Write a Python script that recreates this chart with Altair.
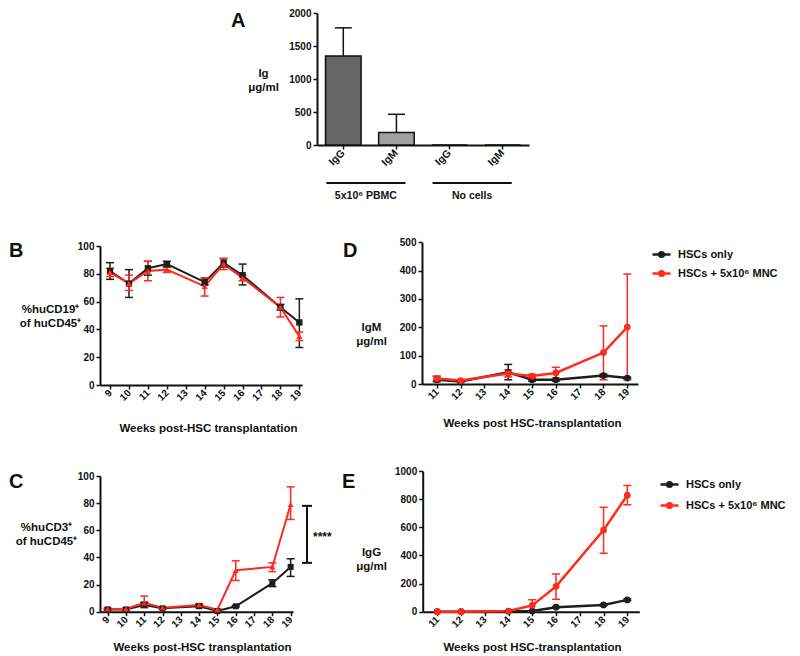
import altair as alt
import pandas as pd

# ---------------- data ----------------
SERIES = ["HSCs only", "HSCs + 5x10⁶ MNC"]

# Panel A: immunoglobulin (µg/ml)
a_group = ["5x10⁶ PBMC", "5x10⁶ PBMC", "No cells", "No cells"]
a_group_names = ["5x10⁶ PBMC", "No cells"]
a_ig = ["IgG", "IgM", "IgG", "IgM"]
a_mean = [1350, 190, 0, 0]
a_upper = [1775, 465, 0, 0]
a_yticks = [0, 500, 1000, 1500, 2000]

# Panel B: %huCD19+ of huCD45+
b_weeks = [9, 10, 11, 12, 14, 15, 16, 18, 19]
b_hsc_mean = [82, 73, 84, 87, 74, 88, 79, 56, 45]
b_hsc_lo = [76, 63, 79, 85, 72, 85, 72, 54, 27]
b_hsc_hi = [88, 83, 89, 89, 77, 91, 87, 58, 62]
b_mnc_mean = [81, 73, 82, 83, 71, 87, 77, 56, 35]
b_mnc_lo = [78, 68, 75, 81, 64, 83, 75, 49, 32]
b_mnc_hi = [84, 79, 89, 85, 77, 91, 79, 63, 38]
bc_xticks = [9, 10, 11, 12, 13, 14, 15, 16, 17, 18, 19]
bc_yticks = [0, 20, 40, 60, 80, 100]

# Panel C: %huCD3+ of huCD45+
c_weeks = [9, 10, 11, 12, 14, 15, 16, 18, 19]
c_hsc_mean = [1.7, 1.7, 5, 2.5, 4, 0.5, 4, 21, 33]
c_hsc_lo = [1, 1, 3, 2, 3, 0, 3.5, 18.5, 26]
c_hsc_hi = [2.5, 2.5, 7, 3, 5, 1, 4.5, 23.5, 39]
c_mnc_mean = [2, 2, 6.5, 3, 5, 1.5, 30.5, 33, 79]
c_mnc_lo = [1.5, 1.5, 3.5, 2.5, 4, 1, 23, 29.5, 68]
c_mnc_hi = [2.5, 2.5, 11.5, 3.5, 6, 2, 37.5, 36, 92]
c_sig_lo, c_sig_hi, c_sig_label = 36, 78, "****"

# Panel D: IgM µg/ml
d_weeks = [11, 12, 14, 15, 16, 18, 19]
d_hsc_mean = [15, 9, 41, 15, 15, 30, 21]
d_hsc_lo = [8, 6, 15, 10, 10, 25, 18]
d_hsc_hi = [27, 12, 69, 20, 20, 35, 24]
d_mnc_mean = [19, 12, 37, 28, 39, 111, 201]
d_mnc_lo = [12, 9, 25, 22, 20, 15, 15]
d_mnc_hi = [27, 15, 50, 34, 59, 205, 388]
d_yticks = [0, 100, 200, 300, 400, 500]

# Panel E: IgG µg/ml
e_weeks = [11, 12, 14, 15, 16, 18, 19]
e_hsc_mean = [0, 0, 3, 5, 32, 48, 84]
e_hsc_lo = [0, 0, 1, 2, 28, 43, 78]
e_hsc_hi = [0, 0, 5, 8, 36, 53, 90]
e_mnc_mean = [0, 0, 5, 45, 180, 580, 828]
e_mnc_lo = [0, 0, 2, 2, 88, 415, 760]
e_mnc_hi = [0, 0, 8, 85, 268, 742, 897]
e_yticks = [0, 200, 400, 600, 800, 1000]
de_xticks = [11, 12, 13, 14, 15, 16, 17, 18, 19]

letters = ["A", "B", "C", "D", "E"]

# ---------------- style / layout ----------------
RED = "#ff2b1c"
BLACK = "#1e1e1e"
FONT = "Liberation Sans"
OFF = 8            # page margin
W, H = 784, 648    # whole drawing area (page 8..792, 8..656)
TLH = 14           # title line height


def px(v):
    """page pixel -> chart pixel"""
    return v - OFF


LEG_SYMBOL = "M-1,0L1,0M0.26,0A0.26,0.26,0,1,1,-0.26,0A0.26,0.26,0,1,1,0.26,0Z"


def make_df(weeks, hsc, mnc):
    rows = []
    for name, (m, lo, hi) in zip(SERIES, (hsc, mnc)):
        for w, mm, l, h in zip(weeks, m, lo, hi):
            rows.append({"week": w, "series": name, "mean": mm, "lo": l, "hi": h})
    return pd.DataFrame(rows)


def line_panel(df, g, xticks, yticks, xtitle, ytitle, shapes, pt_size, line_w, legend=None):
    xs = alt.Scale(domain=list(g["xd"]), range=[px(g["x0"]), px(g["x1"])], nice=False, zero=False)
    ys = alt.Scale(domain=list(g["yd"]), range=[px(g["y0"]), px(g["y1"])], nice=False, zero=False)
    cs = alt.Scale(domain=SERIES, range=[BLACK, RED])
    shp = alt.Scale(domain=SERIES, range=shapes)
    xaxis = alt.Axis(orient="bottom", offset=px(g["y0"]) - H, values=xticks, format="d",
                     labelAngle=-45, labelAlign="right", labelBaseline="middle",
                     title=xtitle, titleX=px(g["xt"][0]), titleY=g["xt"][1] - g["y0"],
                     titleAlign="center", titleBaseline="middle")
    # first line of the two-line title is placed at titleY
    yaxis = alt.Axis(orient="left", offset=-px(g["x0"]), values=yticks, format="d",
                     title=ytitle, titleAngle=0, titleX=g["yt"][0] - g["x0"],
                     titleY=px(g["yt"][1]) - TLH / 2,
                     titleAlign="center", titleBaseline="middle")
    base = alt.Chart(df)
    col = alt.Color("series:N", scale=cs, legend=None)

    def xq(axis=None):
        return alt.X("week:Q", scale=xs, axis=axis)

    line = base.mark_line(strokeWidth=line_w).encode(
        x=xq(xaxis), y=alt.Y("mean:Q", scale=ys, axis=yaxis),
        color=alt.Color("series:N", scale=cs, legend=legend) if legend is not None else col)
    errb = base.transform_filter("datum.hi > datum.lo")
    rule = errb.mark_rule(strokeWidth=1.5).encode(
        x=xq(), y=alt.Y("lo:Q", scale=ys, axis=None), y2="hi:Q", color=col)
    cap_hi = errb.mark_tick(orient="horizontal", size=8, thickness=1.5, opacity=1).encode(
        x=xq(), y=alt.Y("hi:Q", scale=ys, axis=None), color=col)
    cap_lo = errb.mark_tick(orient="horizontal", size=8, thickness=1.5, opacity=1).encode(
        x=xq(), y=alt.Y("lo:Q", scale=ys, axis=None), color=col)
    pts = base.mark_point(filled=True, opacity=1, size=pt_size).encode(
        x=xq(), y=alt.Y("mean:Q", scale=ys, axis=None), color=col,
        shape=alt.Shape("series:N", scale=shp, legend=None))
    return [line, rule, cap_hi, cap_lo, pts], xs, ys


def legend_at(x, y, rowpad):
    return alt.Legend(orient="none", legendX=px(x), legendY=px(y), title=None,
                      symbolType=LEG_SYMBOL, symbolSize=324, symbolStrokeWidth=2.5,
                      symbolOpacity=1, labelFont=FONT, labelFontSize=11,
                      labelFontWeight="bold", labelColor="#111", labelOffset=6,
                      rowPadding=rowpad, padding=0)


layers = []

# ---------------- Panel A ----------------
a_ids = [f"{g}|{i}" for g, i in zip(a_group, a_ig)]
dfA = pd.DataFrame({"id": a_ids, "group": a_group, "ig": a_ig, "mean": a_mean, "upper": a_upper})
A_X0, A_X1, A_PI, A_PO = 317, 529, 0.33, 0.16
A_Y0, A_Y1 = 145, 13
bandA = alt.Scale(domain=a_ids, range=[px(A_X0), px(A_X1)], paddingInner=A_PI, paddingOuter=A_PO)
ysA = alt.Scale(domain=[0, 2000], range=[px(A_Y0), px(A_Y1)], nice=False, zero=False)
xaxisA = alt.Axis(orient="bottom", offset=px(A_Y0) - H, labelExpr="split(datum.label, '|')[1]",
                  labelAngle=-45, labelAlign="right", labelBaseline="middle", labelFontSize=10.5,
                  title=None)
yaxisA = alt.Axis(orient="left", offset=-px(A_X0), values=a_yticks, format="d",
                  title=["Ig", "μg/ml"], titleAngle=0, titleX=263 - A_X0, titleY=px(80) - TLH / 2,
                  titleAlign="center", titleBaseline="middle")
barsA = alt.Chart(dfA).mark_bar(stroke="#111", strokeWidth=1.5).encode(
    x=alt.X("id:N", scale=bandA, axis=xaxisA),
    y=alt.Y("mean:Q", scale=ysA, axis=yaxisA),
    color=alt.Color("ig:N", scale=alt.Scale(domain=["IgG", "IgM"], range=["#666666", "#a0a0a0"]), legend=None))
errA = alt.Chart(dfA).transform_filter("datum.upper > datum.mean")
ruleA = errA.mark_rule(strokeWidth=1.5, color="#111").encode(
    x=alt.X("id:N", scale=bandA, axis=None), y=alt.Y("mean:Q", scale=ysA, axis=None), y2="upper:Q")
capA = errA.mark_tick(orient="horizontal", size=17, thickness=1.5, color="#111", opacity=1).encode(
    x=alt.X("id:N", scale=bandA, axis=None), y=alt.Y("upper:Q", scale=ysA, axis=None))

n = len(a_ids)
step = (A_X1 - A_X0) / (n - A_PI + 2 * A_PO)
centers = [A_X0 + A_PO * step + i * step + (1 - A_PI) * step / 2 for i in range(n)]
gscale = alt.Scale(domain=[0, n - 1], range=[px(centers[0]), px(centers[-1])], nice=False, zero=False)
grp_rows = []
for gname in a_group_names:
    idx = [i for i, g in enumerate(a_group) if g == gname]
    s, e = idx[0] - 0.32, idx[-1] + 0.17
    grp_rows.append({"label": gname, "start": s, "end": e, "mid": (s + e) / 2})
dfG = pd.DataFrame(grp_rows)
grpRule = alt.Chart(dfG).mark_rule(strokeWidth=2, color="#111").encode(
    x=alt.X("start:Q", scale=gscale, axis=None), x2="end:Q", y=alt.value(px(183)))
grpText = alt.Chart(dfG).mark_text(font=FONT, fontSize=10.5, fontWeight="bold", color="#111",
                                   align="center", baseline="middle").encode(
    x=alt.X("mid:Q", scale=gscale, axis=None), y=alt.value(px(196)), text="label:N")
layers += [barsA, ruleA, capA, grpRule, grpText]

# ---------------- Panels B-E ----------------
GEO = {
    "B": dict(x0=100, x1=302, xd=(8.47, 19.14), y0=385, y1=246, yd=(0, 100), xt=(208, 428), yt=(50, 316)),
    "C": dict(x0=100, x1=293, xd=(8.58, 19.13), y0=611.7, y1=476, yd=(0, 100), xt=(202, 647), yt=(46, 534)),
    "D": dict(x0=422, x1=638, xd=(10.38, 19.45), y0=384, y1=242.3, yd=(0, 500), xt=(532, 423), yt=(371, 334)),
    "E": dict(x0=422.7, x1=639.3, xd=(10.385, 19.505), y0=611.7, y1=471, yd=(0, 1000), xt=(532, 647), yt=(371, 559)),
}

lB, _, _ = line_panel(make_df(b_weeks, (b_hsc_mean, b_hsc_lo, b_hsc_hi), (b_mnc_mean, b_mnc_lo, b_mnc_hi)),
                      GEO["B"], bc_xticks, bc_yticks, "Weeks post-HSC transplantation",
                      ["%huCD19⁺", "of huCD45⁺"], ["square", "triangle-up"], 40, 2)
lC, xsC, ysC = line_panel(make_df(c_weeks, (c_hsc_mean, c_hsc_lo, c_hsc_hi), (c_mnc_mean, c_mnc_lo, c_mnc_hi)),
                          GEO["C"], bc_xticks, bc_yticks, "Weeks post-HSC transplantation",
                          ["%huCD3⁺", "of huCD45⁺"], ["square", "triangle-up"], 36, 2)
lD, _, _ = line_panel(make_df(d_weeks, (d_hsc_mean, d_hsc_lo, d_hsc_hi), (d_mnc_mean, d_mnc_lo, d_mnc_hi)),
                      GEO["D"], de_xticks, d_yticks, "Weeks post HSC-transplantation",
                      ["IgM", "μg/ml"], ["circle", "circle"], 45, 2.5, legend=legend_at(651, 244, 1))
lE, _, _ = line_panel(make_df(e_weeks, (e_hsc_mean, e_hsc_lo, e_hsc_hi), (e_mnc_mean, e_mnc_lo, e_mnc_hi)),
                      GEO["E"], de_xticks, e_yticks, "Weeks post HSC-transplantation",
                      ["IgG", "μg/ml"], ["circle", "circle"], 45, 2.5, legend=legend_at(659, 474, 3))
layers += lB + lC + lD + lE

# significance bracket in C
dfSig = pd.DataFrame({"lo": [c_sig_lo], "hi": [c_sig_hi], "label": [c_sig_label]})
sig = alt.Chart(dfSig)
layers += [
    sig.mark_rule(strokeWidth=2, color="#111").encode(
        x=alt.value(px(307)), y=alt.Y("lo:Q", scale=ysC, axis=None), y2="hi:Q"),
    sig.mark_tick(orient="horizontal", size=10, thickness=2, color="#111", opacity=1).encode(
        x=alt.value(px(307)), y=alt.Y("lo:Q", scale=ysC, axis=None)),
    sig.mark_tick(orient="horizontal", size=10, thickness=2, color="#111", opacity=1).encode(
        x=alt.value(px(307)), y=alt.Y("hi:Q", scale=ysC, axis=None)),
    sig.transform_calculate(mid="(datum.lo + datum.hi) / 2").mark_text(
        font=FONT, fontSize=12, fontWeight="bold", color="#111", align="left", baseline="middle", dy=3).encode(
        x=alt.value(px(313)), y=alt.Y("mid:Q", scale=ysC, axis=None), text="label:N"),
]

# panel letters
LETTER_POS = {"A": (231, 27), "B": (9, 257), "C": (9, 488), "D": (343, 257), "E": (342, 488)}
for L in letters:
    lx, ly = LETTER_POS[L]
    layers.append(alt.Chart(pd.DataFrame({"t": [L]})).mark_text(
        font=FONT, fontSize=20, fontWeight="bold", color="#111", align="left", baseline="alphabetic").encode(
        x=alt.value(px(lx)), y=alt.value(px(ly)), text="t:N"))

chart = alt.layer(*layers).resolve_scale(
    x="independent", y="independent", color="independent", shape="independent"
).properties(
    width=W, height=H, autosize=alt.AutoSizeParams(type="none"), padding=0, background="white"
).configure_view(stroke=None).configure_axis(
    grid=False, domainColor="#111", domainWidth=2, tickColor="#111", tickWidth=1.5, tickSize=4,
    labelFont=FONT, labelFontSize=10, labelFontWeight="bold", labelColor="#111", labelPadding=2,
    labelFlush=False, labelOverlap=False, labelBound=False,
    titleFont=FONT, titleFontSize=11.5, titleFontWeight="bold", titleColor="#111", titleLineHeight=TLH,
)

chart.save("out.html", embed_options={"renderer": "svg", "actions": False})
